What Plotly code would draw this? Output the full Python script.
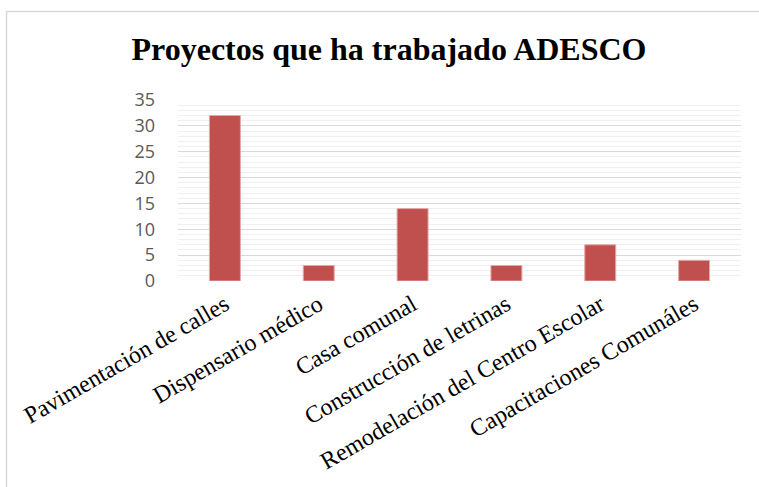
import plotly.graph_objects as go

categories = ["Pavimentación de calles", "Dispensario médico", "Casa comunal",
              "Construcción de letrinas", "Remodelación del Centro Escolar",
              "Capacitaciones Comunáles"]
values = [32, 3, 14, 3, 7, 4]
title_text = "Proyectos que ha trabajado ADESCO"

W, H = 759, 487
L, R, T, B = 20, 18, 100, 206
pw = W - L - R
ph = H - T - B

def px_x(p):
    return (p - L) / pw

def px_y(p):
    return (H - B - p) / ph

fig = go.Figure()
fig.add_trace(go.Bar(
    x=categories, y=values,
    marker=dict(color="#c0504d", line=dict(color="#e3a9a8", width=1)),
    hoverinfo="x+y",
))

fig.update_layout(
    width=W, height=H,
    margin=dict(l=L, r=R, t=T, b=B, autoexpand=False),
    paper_bgcolor="white", plot_bgcolor="white",
    showlegend=False,
    bargap=0.67,
    title=dict(text="<b>" + title_text + "</b>",
               font=dict(family="Liberation Serif", size=32, color="black"),
               x=389 / W, xanchor="center", xref="container",
               y=1 - 49 / H, yanchor="middle", yref="container"),
    xaxis=dict(domain=[px_x(178), 1], type="category",
               range=[-0.5, len(categories) - 0.5],
               tickangle=-30,
               tickfont=dict(family="Liberation Serif", size=24, color="black"),
               showgrid=False, zeroline=False, showline=False, ticks="",
               ticklabelstandoff=4),
    yaxis=dict(anchor="x", range=[0, 35], dtick=5, tick0=0,
               showgrid=True, gridcolor="#d9d9d9", gridwidth=1.3,
               zeroline=False, showline=False, ticks="",
               ticklabelstandoff=22,
               tickfont=dict(family="Open Sans", size=18, color="#595959"),
               minor=dict(dtick=1, showgrid=True, gridcolor="#f0f0f0", gridwidth=1.3)),
    shapes=[dict(type="rect", xref="paper", yref="paper",
                 x0=px_x(6.5), x1=px_x(790), y0=px_y(520), y1=px_y(11.5),
                 line=dict(color="#d9d9d9", width=1.5), fillcolor="rgba(0,0,0,0)",
                 layer="below")],
)

fig.write_html("out.html", config={"displayModeBar": False},
               post_script="document.body.style.margin='0';document.body.style.overflow='hidden';")
